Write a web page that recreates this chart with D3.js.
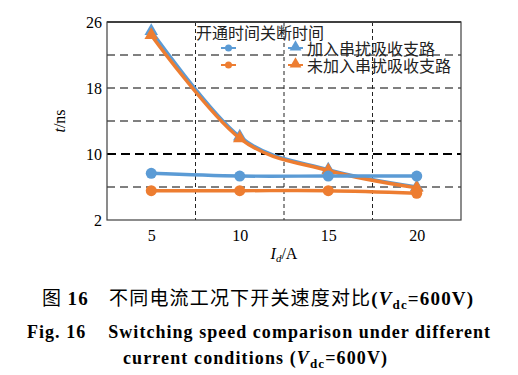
<!DOCTYPE html>
<html><head><meta charset="utf-8">
<script src="https://cdn.jsdelivr.net/npm/d3@7"></script>
<style>body{margin:0;background:#fff}</style>
</head><body><svg id="c" width="518" height="375"></svg>
<script>
const currents = [5, 10, 15, 20];
const onWith = [7.66, 7.33, 7.33, 7.33];      // 开通时间 加入串扰吸收支路
const onWithout = [5.55, 5.55, 5.55, 5.24];   // 开通时间 未加入串扰吸收支路
const offWith = [24.9, 12.1, 8.1, 6.0];       // 关断时间 加入串扰吸收支路
const offWithout = [24.4, 11.9, 8.0, 5.9];    // 关断时间 未加入串扰吸收支路
const yTicks = [2, 10, 18, 26];
const yGrid = [6, 10, 14, 18, 22];
const xTicks = [5, 10, 15, 20];
const xGrid = [7.5, 12.5, 17.5];
const seriesNames = ["加入串扰吸收支路", "未加入串扰吸收支路"];

const blue = "#5B9BD5", orange = "#ED7D31";
const svg = d3.select("#c");
const L = 107, R = 461, T = 22, B = 220;
const x = d3.scaleLinear().domain([2.5, 22.5]).range([L, R]);
const y = d3.scaleLinear().domain([2, 26]).range([B, T]);
const serif = "'Liberation Serif','Times New Roman',serif";
const cjk = "'Noto Sans CJK SC',sans-serif";

// grid
svg.append("g").selectAll("line").data(yGrid).join("line")
  .attr("x1", L).attr("x2", R).attr("y1", d => y(d)).attr("y2", d => y(d))
  .attr("stroke", "#000").attr("stroke-width", d => d === 10 ? 2 : 1)
  .attr("stroke-dasharray", d => d === 10 ? "9,5" : "8,5");
svg.append("g").selectAll("line").data(xGrid).join("line")
  .attr("x1", d => x(d)).attr("x2", d => x(d)).attr("y1", T).attr("y2", B)
  .attr("stroke", "#222").attr("stroke-width", 1).attr("stroke-dasharray", "4,3");

// frame
svg.append("rect").attr("x", L).attr("y", T).attr("width", R - L).attr("height", B - T)
  .attr("fill", "none").attr("stroke", "#404040").attr("stroke-width", 1.2);
svg.append("line").attr("x1", L).attr("x2", R).attr("y1", T).attr("y2", T)
  .attr("stroke", "#404040").attr("stroke-width", 2);

// axes
const yAxis = d3.axisLeft(y).tickValues(yTicks).tickSize(0).tickPadding(5);
const gy = svg.append("g").attr("transform", `translate(${L},0)`).call(yAxis);
gy.select(".domain").remove();
gy.selectAll("text").attr("font-family", serif).attr("font-size", 16).attr("fill", "#000");
const xAxis = d3.axisBottom(x).tickValues(xTicks).tickSize(0).tickPadding(10);
const gx = svg.append("g").attr("transform", `translate(0,${B})`).call(xAxis);
gx.select(".domain").remove();
gx.selectAll("text").attr("font-family", serif).attr("font-size", 16).attr("fill", "#000");

// axis titles
const yl = svg.append("text").attr("transform", `translate(65,${y(14)}) rotate(-90)`)
  .attr("text-anchor", "middle").attr("font-family", serif).attr("font-size", 16);
yl.append("tspan").attr("font-style", "italic").text("t");
yl.append("tspan").text("/ns");
const xl = svg.append("text").attr("x", 284).attr("y", 259)
  .attr("text-anchor", "middle").attr("font-family", serif).attr("font-size", 16);
xl.append("tspan").attr("font-style", "italic").text("I");
xl.append("tspan").attr("font-style", "italic").attr("font-size", 11).attr("dy", 3).text("d");
xl.append("tspan").attr("dy", -3).text("/A");

// lines
const line = d3.line().x((d, i) => x(currents[i])).y(d => y(d)).curve(d3.curveCatmullRom.alpha(0));
const tri = d3.symbol().type(d3.symbolTriangle).size(80);
const series = [
  {v: offWith, c: blue, m: "tri"},
  {v: offWithout, c: orange, m: "tri"},
  {v: onWith, c: blue, m: "dot"},
  {v: onWithout, c: orange, m: "dot"}
];
series.forEach(s => {
  svg.append("path").datum(s.v).attr("d", line).attr("fill", "none")
    .attr("stroke", s.c).attr("stroke-width", 3.4);
  const g = svg.append("g");
  if (s.m === "dot") {
    g.selectAll("circle").data(s.v).join("circle")
      .attr("cx", (d, i) => x(currents[i])).attr("cy", d => y(d)).attr("r", 5.5).attr("fill", s.c);
  } else {
    g.selectAll("path").data(s.v).join("path")
      .attr("transform", (d, i) => `translate(${x(currents[i])},${y(d)})`)
      .attr("d", tri).attr("fill", s.c);
  }
});

// legend
svg.append("text").attr("x", 196).attr("y", 39).attr("font-family", cjk).attr("font-size", 16)
  .attr("fill", "#222").text("开通时间关断时间");
const lrows = [{c: blue, yy: 48, name: seriesNames[0]}, {c: orange, yy: 65, name: seriesNames[1]}];
lrows.forEach(r => {
  svg.append("line").attr("x1", 221).attr("x2", 236).attr("y1", r.yy).attr("y2", r.yy)
    .attr("stroke", r.c).attr("stroke-width", 2);
  svg.append("circle").attr("cx", 228.5).attr("cy", r.yy).attr("r", 3.5).attr("fill", r.c);
  svg.append("line").attr("x1", 288).attr("x2", 303).attr("y1", r.yy).attr("y2", r.yy)
    .attr("stroke", r.c).attr("stroke-width", 2);
  svg.append("path").attr("transform", `translate(295.5,${r.yy - 1})`)
    .attr("d", d3.symbol().type(d3.symbolTriangle).size(60)).attr("fill", r.c);
  svg.append("text").attr("x", 307).attr("y", r.yy + 7).attr("font-family", cjk).attr("font-size", 16)
    .attr("fill", "#222").text(r.name);
});

// caption
const c1 = svg.append("text").attr("x", 42).attr("y", 305)
  .attr("font-size", 19).attr("fill", "#000")
  .attr("textLength", 431).attr("lengthAdjust", "spacing");
c1.append("tspan").attr("font-family", cjk).text("图 ");
c1.append("tspan").attr("font-family", serif).attr("font-weight", "bold").text("16");
c1.append("tspan").attr("font-family", cjk).text("\u3000不同电流工况下开关速度对比");
c1.append("tspan").attr("font-family", serif).attr("font-weight", "bold").text("(");
c1.append("tspan").attr("font-family", serif).attr("font-weight", "bold").attr("font-style", "italic").text("V");
c1.append("tspan").attr("font-family", serif).attr("font-weight", "bold").attr("font-size", 13).attr("dy", 4).text("dc");
c1.append("tspan").attr("font-family", serif).attr("font-weight", "bold").attr("dy", -4).text("=600V)");

svg.append("text").attr("x", 27).attr("y", 338)
  .attr("font-family", serif).attr("font-weight", "bold").attr("font-size", 18)
  .attr("textLength", 463).attr("lengthAdjust", "spacing")
  .attr("xml:space", "preserve").text("Fig. 16    Switching speed comparison under different");
const c3 = svg.append("text").attr("x", 123).attr("y", 364)
  .attr("font-family", serif).attr("font-weight", "bold").attr("font-size", 18)
  .attr("textLength", 264).attr("lengthAdjust", "spacing");
c3.append("tspan").text("current conditions (");
c3.append("tspan").attr("font-style", "italic").text("V");
c3.append("tspan").attr("font-size", 13).attr("dy", 4).text("dc");
c3.append("tspan").attr("dy", -4).text("=600V)");
</script></body></html>
